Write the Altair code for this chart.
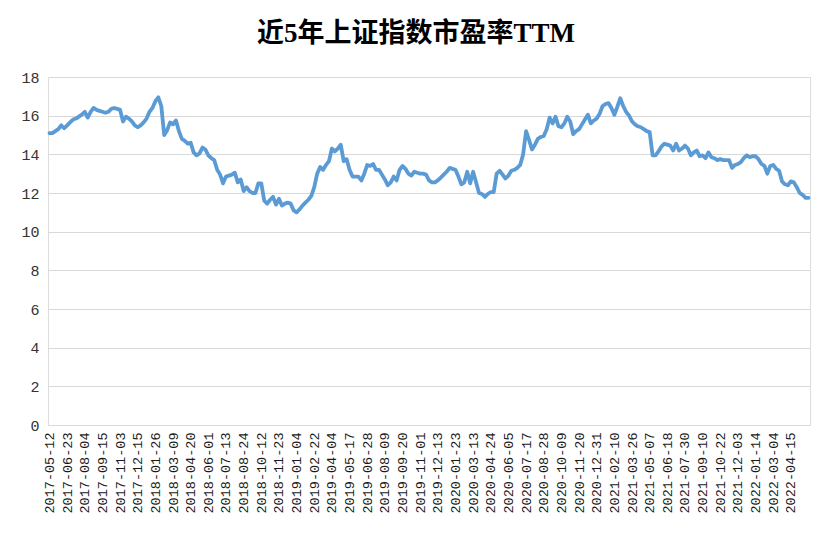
import altair as alt
import pandas as pd
from datetime import date, timedelta

title_text = "近5年上证指数市盈率TTM"

tick_labels = [
    "2017-05-12", "2017-06-23", "2017-08-04", "2017-09-15", "2017-11-03", "2017-12-15",
    "2018-01-26", "2018-03-09", "2018-04-20", "2018-06-01", "2018-07-13", "2018-08-24",
    "2018-10-12", "2018-11-23", "2019-01-04", "2019-02-22", "2019-04-04", "2019-05-17",
    "2019-06-28", "2019-08-09", "2019-09-20", "2019-11-01", "2019-12-13", "2020-01-23",
    "2020-03-13", "2020-04-24", "2020-06-05", "2020-07-17", "2020-08-28", "2020-10-09",
    "2020-11-20", "2020-12-31", "2021-02-10", "2021-03-26", "2021-05-07", "2021-06-18",
    "2021-07-30", "2021-09-10", "2021-10-22", "2021-12-03", "2022-01-14", "2022-03-04",
    "2022-04-15",
]
tail_dates = ["2022-04-22", "2022-04-29", "2022-05-06", "2022-05-13", "2022-05-20", "2022-05-27"]

pe_ttm = [
    # 2017-05 .. 2018-05
    15.1, 15.1, 15.2, 15.3, 15.5, 15.35, 15.5, 15.65, 15.8, 15.85,
    15.95, 16.05, 16.2, 15.9, 16.2, 16.4, 16.3, 16.25, 16.2, 16.15,
    16.2, 16.35, 16.4, 16.35, 16.3, 15.7, 15.95, 15.85, 15.7, 15.5,
    15.4, 15.5, 15.65, 15.85, 16.2, 16.4, 16.75, 16.95, 16.5, 15.0,
    15.25, 15.65, 15.55, 15.75, 15.2, 14.8, 14.7, 14.55, 14.6, 14.1,
    13.95, 14.05,
    # 2018-05 .. 2019-05
    14.35, 14.25, 13.95, 13.8, 13.7, 13.2, 12.95, 12.5, 12.85, 12.9,
    12.95, 13.05, 12.55, 12.7, 12.1, 12.3, 12.1, 12.0, 12.0, 12.5,
    12.5, 11.6, 11.45, 11.65, 11.8, 11.4, 11.7, 11.35, 11.45, 11.5,
    11.45, 11.1, 11.0, 11.15, 11.35, 11.5, 11.65, 11.85, 12.3, 13.0,
    13.35, 13.2, 13.45, 13.65, 14.3, 14.15, 14.3, 14.5, 13.65, 13.75,
    13.2, 12.85,
    # 2019-05 .. 2020-06
    12.85, 12.85, 12.65, 13.0, 13.45, 13.4, 13.5, 13.2, 13.2, 12.95,
    12.7, 12.4, 12.55, 12.85, 12.65, 13.2, 13.4, 13.25, 13.0, 12.9,
    13.1, 13.05, 13.0, 13.0, 12.95, 12.65, 12.55, 12.55, 12.65, 12.8,
    12.95, 13.1, 13.3, 13.25, 13.2, 12.85, 12.45, 12.55, 13.1, 12.5,
    13.1, 12.55, 12.0, 11.95, 11.8, 11.95, 12.05, 12.05, 13.0, 13.15,
    12.95, 12.75, 12.9,
    # 2020-06 .. 2021-06
    13.15, 13.2, 13.3, 13.45, 14.0, 15.2, 14.75, 14.25, 14.5, 14.8,
    14.9, 14.95, 15.3, 15.9, 15.6, 15.95, 15.45, 15.4, 15.6, 15.95,
    15.7, 15.05, 15.2, 15.3, 15.55, 15.8, 16.05, 15.6, 15.75, 15.85,
    16.1, 16.5, 16.6, 16.65, 16.4, 16.05, 16.45, 16.9, 16.5, 16.2,
    16.0, 15.7, 15.55, 15.45, 15.4, 15.3, 15.2, 15.15, 13.95, 13.95,
    14.15, 14.4, 14.55,
    # 2021-06 .. 2022-05
    14.5, 14.45, 14.2, 14.55, 14.2, 14.3, 14.45, 14.3, 13.95, 14.1,
    14.2, 13.9, 13.95, 13.8, 14.1, 13.85, 13.8, 13.7, 13.75, 13.7,
    13.7, 13.7, 13.3, 13.45, 13.5, 13.6, 13.8, 13.95, 13.85, 13.9,
    13.9, 13.75, 13.5, 13.4, 13.0, 13.4, 13.45, 13.25, 13.15, 12.6,
    12.45, 12.4, 12.6, 12.55, 12.3, 12.0, 11.9, 11.75, 11.75,
]

y_ticks = [0, 2, 4, 6, 8, 10, 12, 14, 16, 18]

# weekly categories: each labelled week followed by the five unlabelled weeks
categories = []
for lab in tick_labels[:-1]:
    d0 = date.fromisoformat(lab)
    categories.append(lab)
    for k in range(1, 6):
        categories.append((d0 + timedelta(days=7 * k)).isoformat())
categories.append(tick_labels[-1])
categories.extend(tail_dates)

df = pd.DataFrame({"date": categories, "pe": pe_ttm})

chart = (
    alt.Chart(df)
    .mark_line(color="#5B9BD5", strokeWidth=3.8, strokeJoin="round", strokeCap="round")
    .encode(
        x=alt.X(
            "date:N",
            sort=categories,
            scale=alt.Scale(type="point", padding=0.5),
            axis=alt.Axis(
                values=tick_labels,
                labelAngle=-90,
                labelFont="Liberation Mono",
                labelFontSize=13.5,
                labelColor="#1a1a1a",
                labelPadding=7,
                ticks=False,
                domain=False,
                grid=False,
                title=None,
                labelOverlap=False,
            ),
        ),
        y=alt.Y(
            "pe:Q",
            scale=alt.Scale(domain=[0, 18], nice=False),
            axis=alt.Axis(
                values=y_ticks,
                labelFont="Liberation Mono",
                labelFontSize=15,
                labelColor="#333333",
                labelPadding=9,
                ticks=False,
                domain=False,
                grid=True,
                gridColor="#D9D9D9",
                gridWidth=1.2,
                title=None,
            ),
        ),
    )
    .properties(
        width=762,
        height=348,
        title=alt.TitleParams(
            title_text,
            font="Liberation Serif, Noto Sans CJK SC",
            fontSize=27,
            fontWeight="bold",
            color="#000000",
            anchor="middle",
            dx=-13,
            offset=22,
        ),
        autosize=alt.AutoSizeParams(type="none"),
        padding={"left": 40, "top": 69, "right": 10, "bottom": 95},
    )
    .configure_view(stroke=None)
    .configure(background="white")
)

chart.save("out.html", embed_options={"renderer": "svg", "actions": False})
